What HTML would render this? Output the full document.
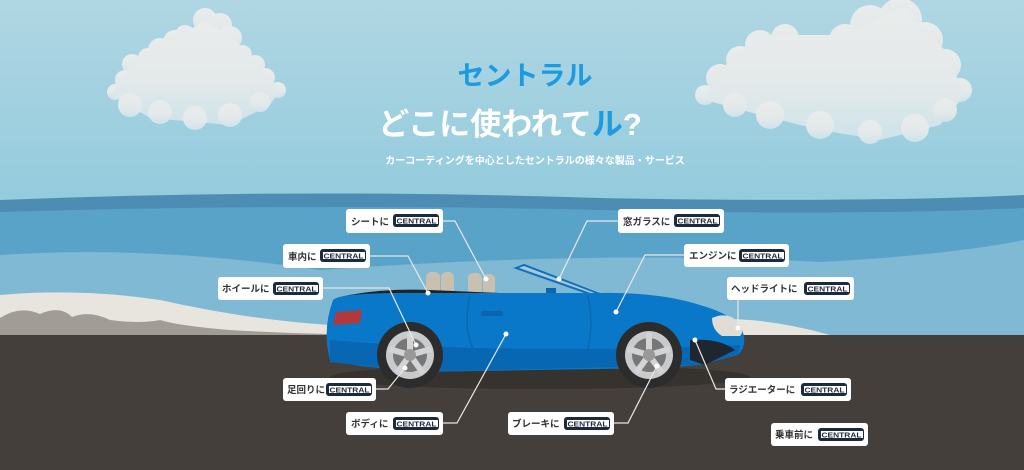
<!DOCTYPE html>
<html><head><meta charset="utf-8"><style>
html,body{margin:0;padding:0;width:1024px;height:470px;overflow:hidden;background:#443f3a}
svg{display:block}
.t{font-family:"Liberation Sans","Noto Sans CJK JP",sans-serif}
</style></head><body>
<svg width="1024" height="470" viewBox="0 0 1024 470" xmlns="http://www.w3.org/2000/svg">
<defs>
<linearGradient id="sky" x1="0" y1="0" x2="0" y2="1">
<stop offset="0" stop-color="#b0d6e3"/><stop offset="1" stop-color="#92cbdd"/></linearGradient>
<linearGradient id="cl" x1="0" y1="0" x2="0" y2="1">
<stop offset="0" stop-color="#eaeceb"/><stop offset="0.6" stop-color="#e3e9ea"/><stop offset="1" stop-color="#cde3ea"/></linearGradient>
<g id="logo"><rect x="0" y="0" width="46" height="13" rx="3" fill="#1d2a3b"/><rect x="3" y="3" width="42" height="7" fill="#fff"/><text x="3.5" y="9.6" class="t" font-size="7.5" font-weight="700" fill="#1d2a3b" textLength="40" lengthAdjust="spacingAndGlyphs">CENTRAL</text></g>
</defs>
<rect width="1024" height="210" fill="url(#sky)"/>
<g fill="url(#cl)">
<circle cx="205" cy="20" r="12"/><circle cx="220" cy="25" r="12"/><circle cx="230" cy="38" r="12"/><circle cx="185" cy="35" r="10"/><circle cx="175" cy="42" r="12"/><circle cx="160" cy="50" r="12"/><circle cx="148" cy="58" r="10"/><circle cx="132" cy="64" r="10"/><circle cx="242" cy="55" r="10"/><circle cx="255" cy="65" r="10"/><circle cx="265" cy="78" r="10"/><circle cx="278" cy="90" r="8"/><circle cx="125" cy="80" r="10"/><circle cx="115" cy="92" r="8"/>
<path d="M205 20 L235 40 L280 90 L270 105 L230 125 L150 118 L112 95 L130 64 L175 40Z"/>
<circle cx="130" cy="105" r="12"/><circle cx="160" cy="112" r="12"/><circle cx="195" cy="118" r="12"/><circle cx="230" cy="115" r="12"/><circle cx="260" cy="102" r="10"/>
<circle cx="900" cy="20" r="22"/><circle cx="870" cy="25" r="20"/><circle cx="845" cy="40" r="16"/><circle cx="925" cy="40" r="18"/><circle cx="945" cy="65" r="16"/><circle cx="960" cy="90" r="12"/>
<circle cx="760" cy="45" r="15"/><circle cx="785" cy="38" r="14"/><circle cx="740" cy="60" r="14"/><circle cx="720" cy="78" r="14"/><circle cx="705" cy="95" r="10"/>
<path d="M760 35 L800 35 L845 35 L900 8 L945 50 L965 95 L940 125 L880 140 L820 130 L760 115 L705 100 L720 70Z"/>
<circle cx="735" cy="105" r="12"/><circle cx="770" cy="115" r="14"/><circle cx="820" cy="125" r="14"/><circle cx="870" cy="132" r="12"/><circle cx="915" cy="128" r="14"/><circle cx="945" cy="110" r="12"/>
</g>
<path d="M0 200 Q300 188 600 198 Q850 203 1024 195 L1024 300 L0 300Z" fill="#4d8db3"/>
<path d="M0 212 Q300 203 600 210 Q850 216 1024 208 L1024 300 L0 300Z" fill="#5aa3c8"/>
<path d="M0 255 Q150 245 320 270 Q600 250 820 262 Q950 255 1024 240 L1024 340 L0 340Z" fill="#80b9d4"/>
<path d="M0 295 Q80 288 160 300 Q250 320 330 325 L330 340 L0 340Z" fill="#e8e5df"/>
<path d="M0 318 Q20 305 40 314 Q60 305 72 317 Q90 310 110 320 Q140 324 160 320 Q180 326 230 330 Q280 333 330 334 L330 340 L0 340Z" fill="#a19c95"/>
<path d="M700 320 Q760 315 830 335 L700 335Z" fill="#e8e5df"/>
<rect y="335" width="1024" height="135" fill="#443f3a"/>
<ellipse cx="540" cy="377" rx="210" ry="12" fill="#36322e"/>
<text x="525" y="85" text-anchor="middle" class="t" font-size="27" font-weight="700" fill="#1c9be0">セントラル</text>
<text x="510" y="135" text-anchor="middle" class="t" font-size="31" font-weight="700" fill="#fff">どこに使われて<tspan fill="#1c9be0">ル</tspan>?</text>
<text x="535" y="164" text-anchor="middle" class="t" font-size="10" font-weight="700" fill="#fff">カーコーティングを中心としたセントラルの様々な製品・サービス</text>
<polygon points="516,268 524,265 600,292 590,294" fill="#aecbd8" opacity="0.9"/>
<path d="M516,268 L524,265 L600,294 L596,296Z" fill="none" stroke="#1070c0" stroke-width="2"/>
<rect x="546" y="288" width="10" height="8" fill="#0c65b0"/>
<g fill="#c9c0b0"><rect x="426" y="272" width="14" height="22" rx="5"/><rect x="441" y="272" width="13" height="22" rx="5"/><rect x="468" y="273" width="14" height="22" rx="5"/><rect x="483" y="274" width="12" height="21" rx="5"/></g>
<path d="M340,297 Q380,288 430,290 L500,293 L470,296Z" fill="#222"/>
<path d="M333,300 Q340,292 430,293 L600,293 Q660,292 700,305 Q735,315 742,330 Q748,345 738,355 L700,365 L660,368 L420,372 L360,366 L330,360 Q322,330 333,300Z" fill="#0a78c8"/>
<path d="M330,340 Q500,355 740,345 L738,355 L700,365 L420,372 L330,362Z" fill="#0867b3"/>
<path d="M336,312 L362,310 L360,323 L333,325Z" fill="#b2393b"/>
<path d="M470,296 Q462,330 475,352 L585,358 Q595,330 588,296" fill="none" stroke="#0868b2" stroke-width="1.5"/>
<rect x="481" y="311" width="22" height="5" rx="2" fill="#0866b0"/>
<path d="M712,318 Q726,312 736,320 Q746,330 740,336 L722,336 Q712,330 712,318Z" fill="#e0ddd6"/>
<path d="M690,340 Q720,338 735,350 L705,365 L690,360Z" fill="#1e2630"/>
<g><circle cx="410" cy="355" r="33" fill="#2c2c2c"/><circle cx="410" cy="355" r="24" fill="#c9cacb"/><circle cx="410" cy="355" r="17" fill="#777"/><g stroke="#d3d4d5" stroke-width="6"><line x1="410" y1="355" x2="410" y2="333"/><line x1="410" y1="355" x2="431" y2="349"/><line x1="410" y1="355" x2="423" y2="373"/><line x1="410" y1="355" x2="397" y2="373"/><line x1="410" y1="355" x2="389" y2="349"/></g><circle cx="410" cy="355" r="6" fill="#999"/></g>
<g><circle cx="649" cy="355" r="33" fill="#2c2c2c"/><circle cx="649" cy="355" r="24" fill="#c9cacb"/><circle cx="649" cy="355" r="17" fill="#777"/><g stroke="#d3d4d5" stroke-width="6"><line x1="649" y1="355" x2="649" y2="333"/><line x1="649" y1="355" x2="670" y2="349"/><line x1="649" y1="355" x2="662" y2="373"/><line x1="649" y1="355" x2="636" y2="373"/><line x1="649" y1="355" x2="628" y2="349"/></g><circle cx="649" cy="355" r="6" fill="#999"/></g>
<g stroke="#e8e8e8" stroke-width="1.2" fill="none">
<polyline points="443,221 455,221 486,279"/>
<polyline points="618,221 587,221 559,279"/>
<polyline points="370,256 408,256 428,293"/>
<polyline points="684,255 645,255 616,312"/>
<polyline points="323,288 389,288 416,345"/>
<polyline points="738,300 738,328"/>
<polyline points="376,389 388,389 405,368"/>
<polyline points="443,423 457,423 506,334"/>
<polyline points="614,423 628,423 657,366"/>
<polyline points="725,389 716,389 695,340"/>
</g>
<g fill="#fff"><circle cx="486" cy="279" r="2.5"/><circle cx="559" cy="279" r="2.5"/><circle cx="428" cy="293" r="2.5"/><circle cx="616" cy="312" r="2.5"/><circle cx="416" cy="345" r="2.5"/><circle cx="738" cy="328" r="2.5"/><circle cx="405" cy="368" r="2.5"/><circle cx="506" cy="334" r="2.5"/><circle cx="657" cy="366" r="2.5"/><circle cx="695" cy="340" r="2.5"/></g>
<g class="t" font-size="9.5" font-weight="700" fill="#333">
<rect x="346" y="209" width="97" height="24" rx="3" fill="#fff"/><text x="351" y="225">シートに</text><use href="#logo" x="393" y="214"/>
<rect x="618" y="209" width="106" height="24" rx="3" fill="#fff"/><text x="623" y="225">窓ガラスに</text><use href="#logo" x="674" y="214"/>
<rect x="283" y="244" width="87" height="24" rx="3" fill="#fff"/><text x="288" y="260">車内に</text><use href="#logo" x="320" y="249"/>
<rect x="684" y="244" width="105" height="23" rx="3" fill="#fff"/><text x="689" y="259">エンジンに</text><use href="#logo" x="739" y="249"/>
<rect x="218" y="277" width="105" height="23" rx="3" fill="#fff"/><text x="222" y="292">ホイールに</text><use href="#logo" x="273" y="282"/>
<rect x="727" y="277" width="127" height="23" rx="3" fill="#fff"/><text x="731" y="292">ヘッドライトに</text><use href="#logo" x="804" y="282"/>
<rect x="283" y="378" width="93" height="23" rx="3" fill="#fff"/><text x="287" y="393">足回りに</text><use href="#logo" x="326" y="383"/>
<rect x="346" y="412" width="97" height="23" rx="3" fill="#fff"/><text x="351" y="427">ボディに</text><use href="#logo" x="393" y="417"/>
<rect x="508" y="412" width="106" height="23" rx="3" fill="#fff"/><text x="512" y="427">ブレーキに</text><use href="#logo" x="564" y="417"/>
<rect x="725" y="378" width="126" height="23" rx="3" fill="#fff"/><text x="729" y="393">ラジエーターに</text><use href="#logo" x="801" y="383"/>
<rect x="771" y="423" width="97" height="23" rx="3" fill="#fff"/><text x="775" y="438">乗車前に</text><use href="#logo" x="818" y="428"/>
</g>
</svg>
</body></html>
